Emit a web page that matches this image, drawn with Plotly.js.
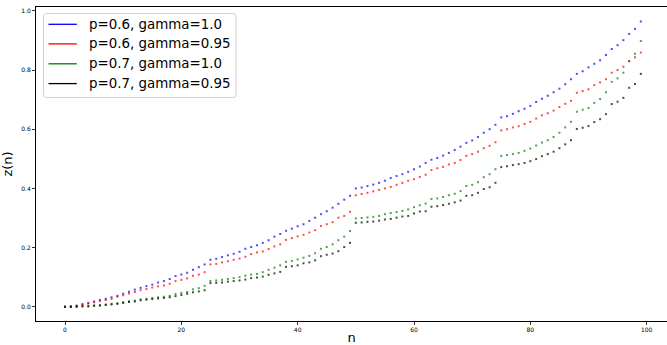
<!DOCTYPE html>
<html>
<head>
<meta charset="utf-8">
<script src="https://cdn.plot.ly/plotly-3.0.1.min.js"></script>
<style>html,body{margin:0;padding:0;background:#fff;}#chart{width:667px;height:345px;}</style>
</head>
<body>
<div id="chart"></div>
<script>
var n = [];
for (var i = 0; i < 100; i++) n.push(i);

var seriesNames = ["p=0.6, gamma=1.0", "p=0.6, gamma=0.95", "p=0.7, gamma=1.0", "p=0.7, gamma=0.95"];
var seriesColors = ["#0000ff", "#ff0000", "#008000", "#000000"];

var zP06G100 = [0.000,0.001,0.004,0.009,0.013,0.018,0.023,0.027,0.032,0.037,
0.044,0.051,0.058,0.064,0.070,0.075,0.082,0.087,0.094,0.104,
0.109,0.115,0.125,0.134,0.143,0.159,0.162,0.168,0.174,0.179,
0.186,0.196,0.202,0.208,0.216,0.225,0.237,0.246,0.257,0.264,
0.272,0.279,0.290,0.301,0.313,0.323,0.335,0.348,0.362,0.375,
0.400,0.403,0.408,0.413,0.419,0.426,0.435,0.442,0.448,0.456,
0.465,0.474,0.486,0.497,0.503,0.511,0.520,0.530,0.541,0.554,
0.562,0.574,0.588,0.600,0.615,0.640,0.644,0.652,0.661,0.669,
0.679,0.692,0.703,0.713,0.725,0.737,0.752,0.769,0.787,0.796,
0.809,0.821,0.833,0.851,0.871,0.884,0.901,0.922,0.939,0.964];

var zP06G095 = [0.000,0.001,0.003,0.007,0.011,0.015,0.019,0.023,0.027,0.034,
0.039,0.045,0.050,0.056,0.060,0.065,0.069,0.072,0.078,0.087,
0.091,0.096,0.105,0.109,0.117,0.143,0.145,0.150,0.154,0.159,
0.163,0.169,0.178,0.184,0.187,0.195,0.204,0.211,0.226,0.232,
0.238,0.243,0.251,0.259,0.273,0.279,0.286,0.301,0.307,0.321,
0.377,0.381,0.385,0.390,0.395,0.400,0.405,0.412,0.419,0.426,
0.431,0.439,0.446,0.462,0.468,0.473,0.481,0.486,0.496,0.510,
0.516,0.524,0.536,0.544,0.556,0.596,0.600,0.606,0.610,0.618,
0.625,0.636,0.647,0.654,0.663,0.675,0.686,0.696,0.723,0.729,
0.735,0.749,0.758,0.769,0.791,0.800,0.811,0.830,0.843,0.859];

var zP07G100 = [0.000,0.000,0.001,0.003,0.003,0.005,0.006,0.008,0.010,0.012,
0.016,0.019,0.021,0.025,0.027,0.030,0.032,0.034,0.037,0.043,
0.047,0.050,0.059,0.063,0.071,0.087,0.089,0.091,0.094,0.097,
0.100,0.105,0.109,0.111,0.117,0.125,0.132,0.140,0.152,0.155,
0.160,0.166,0.172,0.181,0.196,0.202,0.211,0.225,0.237,0.256,
0.299,0.300,0.302,0.304,0.307,0.313,0.317,0.320,0.324,0.329,
0.336,0.343,0.349,0.364,0.366,0.371,0.377,0.382,0.391,0.408,
0.412,0.421,0.438,0.448,0.465,0.510,0.513,0.516,0.520,0.527,
0.535,0.545,0.555,0.563,0.574,0.588,0.606,0.625,0.659,0.666,
0.672,0.689,0.702,0.725,0.760,0.772,0.791,0.830,0.855,0.898];

var zP07G095 = [0.000,0.000,0.000,0.001,0.001,0.003,0.004,0.006,0.008,0.010,
0.013,0.016,0.018,0.022,0.024,0.026,0.028,0.030,0.032,0.036,
0.040,0.044,0.049,0.052,0.056,0.080,0.081,0.082,0.085,0.087,
0.089,0.092,0.097,0.099,0.102,0.108,0.113,0.118,0.135,0.137,
0.140,0.147,0.150,0.157,0.171,0.176,0.180,0.188,0.202,0.216,
0.284,0.285,0.287,0.288,0.291,0.295,0.297,0.301,0.305,0.307,
0.315,0.322,0.323,0.338,0.340,0.344,0.348,0.353,0.359,0.375,
0.377,0.385,0.398,0.404,0.419,0.472,0.475,0.479,0.482,0.486,
0.492,0.499,0.509,0.516,0.524,0.536,0.549,0.563,0.601,0.605,
0.611,0.624,0.634,0.651,0.685,0.693,0.706,0.740,0.753,0.787];

var xTicks = [0, 20, 40, 60, 80, 100];
var yTicks = [0.0, 0.2, 0.4, 0.6, 0.8, 1.0];
var yTickText = ["0.0", "0.2", "0.4", "0.6", "0.8", "1.0"];

var allSeries = [zP06G100, zP06G095, zP07G100, zP07G095];
var traces = [];
allSeries.forEach(function (ys, k) {
  traces.push({
    x: n, y: ys, type: "scatter", mode: "markers", name: seriesNames[k],
    marker: {symbol: "square", size: 2, color: seriesColors[k], opacity: 0.7, line: {width: 0}},
    showlegend: false, hoverinfo: "skip"
  });
});

/* plot area in pixels (for the hand-drawn legend box) */
var M = {l: 36, r: 0, t: 7, b: 24};
var W = 667, H = 345;
var pw = W - M.l - M.r, ph = H - M.t - M.b;
function px(x) { return (x - M.l) / pw; }
function py(y) { return (H - M.b - y) / ph; }

var shapes = [];
var annotations = [];
/* legend frame with rounded corners */
var bx0 = 43.5, bx1 = 236, by0 = 13.5, by1 = 97.5, rr = 3;
var path = "M " + px(bx0 + rr) + "," + py(by0) +
  " L " + px(bx1 - rr) + "," + py(by0) +
  " Q " + px(bx1) + "," + py(by0) + " " + px(bx1) + "," + py(by0 + rr) +
  " L " + px(bx1) + "," + py(by1 - rr) +
  " Q " + px(bx1) + "," + py(by1) + " " + px(bx1 - rr) + "," + py(by1) +
  " L " + px(bx0 + rr) + "," + py(by1) +
  " Q " + px(bx0) + "," + py(by1) + " " + px(bx0) + "," + py(by1 - rr) +
  " L " + px(bx0) + "," + py(by0 + rr) +
  " Q " + px(bx0) + "," + py(by0) + " " + px(bx0 + rr) + "," + py(by0) + " Z";
shapes.push({type: "path", xref: "paper", yref: "paper", path: path,
  fillcolor: "rgba(255,255,255,0.8)", line: {color: "#d0d0d0", width: 1}, layer: "above"});
var rowY = [24.3, 43.9, 63.8, 83.6];
seriesNames.forEach(function (name, k) {
  shapes.push({type: "line", xref: "paper", yref: "paper",
    x0: px(48.5), x1: px(76.8), y0: py(rowY[k]), y1: py(rowY[k]),
    line: {color: seriesColors[k], width: 1.3}, layer: "above"});
  annotations.push({xref: "paper", yref: "paper", x: px(87), y: py(rowY[k]),
    xanchor: "left", yanchor: "middle", showarrow: false, text: name,
    font: {family: "DejaVu Sans", size: 13.4, color: "#000"}});
});

var layout = {
  width: W, height: H,
  margin: M,
  paper_bgcolor: "#ffffff", plot_bgcolor: "#ffffff",
  font: {family: "DejaVu Sans", color: "#000"},
  showlegend: false,
  shapes: shapes,
  annotations: annotations,
  xaxis: {
    range: [-4.99, 103.5], tickmode: "array", tickvals: xTicks,
    ticks: "outside", ticklen: 3, tickwidth: 0.8, tickcolor: "#000",
    tickfont: {family: "DejaVu Sans", size: 6, color: "#000"},
    showgrid: false, zeroline: false,
    showline: true, linecolor: "#000", linewidth: 1, mirror: true,
    title: {text: "n", font: {family: "DejaVu Sans", size: 13, color: "#000"}, standoff: 3}
  },
  yaxis: {
    range: [-0.048, 1.013], tickmode: "array", tickvals: yTicks, ticktext: yTickText,
    ticks: "outside", ticklen: 3, tickwidth: 0.8, tickcolor: "#000",
    tickfont: {family: "DejaVu Sans", size: 6, color: "#000"},
    showgrid: false, zeroline: false,
    showline: true, linecolor: "#000", linewidth: 1, mirror: true,
    title: {text: "z(n)", font: {family: "DejaVu Sans", size: 13, color: "#000"}, standoff: 5}
  }
};

Plotly.newPlot("chart", traces, layout, {staticPlot: true, displayModeBar: false});
</script>
</body>
</html>
